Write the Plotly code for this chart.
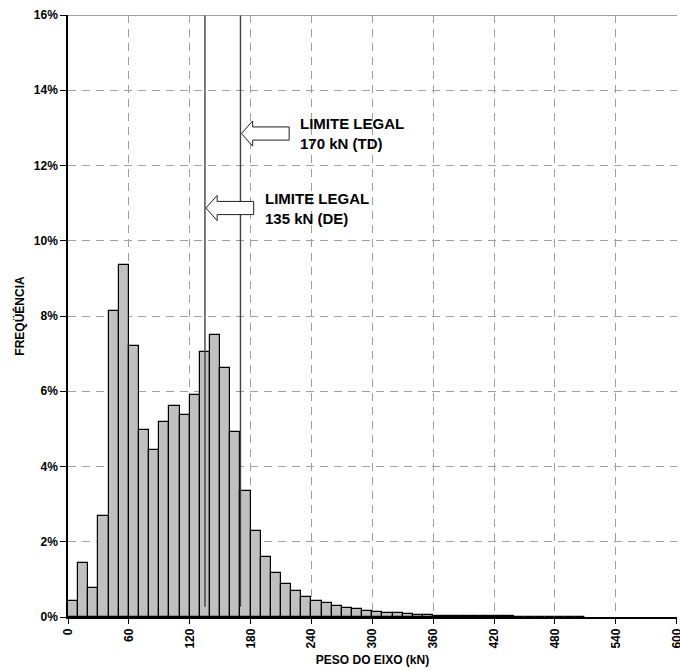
import plotly.graph_objects as go

# ---- data ----
bin_width = 10  # kN
bin_start = list(range(0, 510, 10))
freq_pct = [0.42, 1.43, 0.76, 2.69, 8.12, 9.36, 7.19, 4.96, 4.44, 5.19,
            5.60, 5.37, 5.90, 7.05, 7.49, 6.61, 4.91, 3.35, 2.28, 1.60,
            1.18, 0.88, 0.68, 0.53, 0.43, 0.36, 0.29, 0.25, 0.20, 0.17,
            0.13, 0.11, 0.095, 0.08, 0.065, 0.05, 0.04, 0.035, 0.03, 0.025,
            0.02, 0.02, 0.018, 0.015, 0.013, 0.012, 0.01, 0.01, 0.01, 0.008,
            0.007]
limits_kN = [135, 170]
limit_labels = ["LIMITE LEGAL<br>135 kN (DE)", "LIMITE LEGAL<br>170 kN (TD)"]
arrow_tip_y = [10.87, 12.85]
limit_line_y = [0.27, 16]
x_ticks = list(range(0, 601, 60))
x_ticktext = [str(v) for v in x_ticks]
y_ticks = list(range(0, 17, 2))
y_ticktext = [f"{v}%" for v in y_ticks]

FONT = "Liberation Sans, Arial, sans-serif"

fig = go.Figure()
fig.add_trace(go.Bar(
    x=[s + bin_width / 2 for s in bin_start], y=freq_pct, width=bin_width,
    marker=dict(color="#C0C0C0", line=dict(color="black", width=1.2)),
    showlegend=False, hoverinfo="skip"))

for lim in limits_kN:
    fig.add_trace(go.Scatter(x=[lim, lim], y=limit_line_y, mode="lines",
                             line=dict(color="#404040", width=1.4),
                             showlegend=False, hoverinfo="skip"))

shapes = []
# top border
shapes.append(dict(type="line", xref="paper", yref="y", x0=0, x1=1, y0=16, y1=16,
                   line=dict(color="#808080", width=1.5)))
# block arrows
head_len, total_len, head_h, shaft_h = 11, 47, 0.335, 0.175
for lim, ty, lab in zip(limits_kN, arrow_tip_y, limit_labels):
    x0 = lim + 1
    pts = [(x0, ty), (x0 + head_len, ty + head_h), (x0 + head_len, ty + shaft_h),
           (x0 + total_len, ty + shaft_h), (x0 + total_len, ty - shaft_h),
           (x0 + head_len, ty - shaft_h), (x0 + head_len, ty - head_h)]
    path = "M " + " L ".join(f"{px},{py}" for px, py in pts) + " Z"
    shapes.append(dict(type="path", xref="x", yref="y", path=path,
                       fillcolor="white", line=dict(color="#202020", width=1)))
    fig.add_annotation(x=lim + 57, y=ty, xref="x", yref="y", text=lab,
                       showarrow=False, xanchor="left", yanchor="middle", align="left",
                       font=dict(family=FONT, size=15, color="black", weight="bold"))

fig.update_layout(
    width=680, height=670,
    margin=dict(l=68, r=3, t=15, b=53),
    plot_bgcolor="white", paper_bgcolor="white",
    bargap=0, shapes=shapes,
    xaxis=dict(range=[0, 600.3], tickvals=x_ticks, ticktext=x_ticktext, tickangle=-90,
               ticklabeloverflow="allow",
               showgrid=True, gridcolor="#A0A0A0", griddash="8px,6px", gridwidth=1,
               showline=True, linecolor="black", linewidth=1.5,
               ticks="outside", ticklen=5, tickcolor="black",
               tickfont=dict(family=FONT, size=12, color="black", weight="bold"),
               title=dict(text="PESO DO EIXO (kN)", standoff=8,
                          font=dict(family=FONT, size=12, color="black", weight="bold")),
               zeroline=False, automargin=False),
    yaxis=dict(range=[0, 16], tickvals=y_ticks, ticktext=y_ticktext,
               showgrid=True, gridcolor="#A0A0A0", griddash="8px,6px", gridwidth=1,
               showline=True, linecolor="black", linewidth=1.5,
               ticks="outside", ticklen=6, tickcolor="black",
               tickfont=dict(family=FONT, size=12, color="black", weight="bold"),
               title=dict(text="FREQÜÊNCIA", standoff=7,
                          font=dict(family=FONT, size=12, color="black", weight="bold")),
               zeroline=False, automargin=False),
)

fig.write_html("out.html")
